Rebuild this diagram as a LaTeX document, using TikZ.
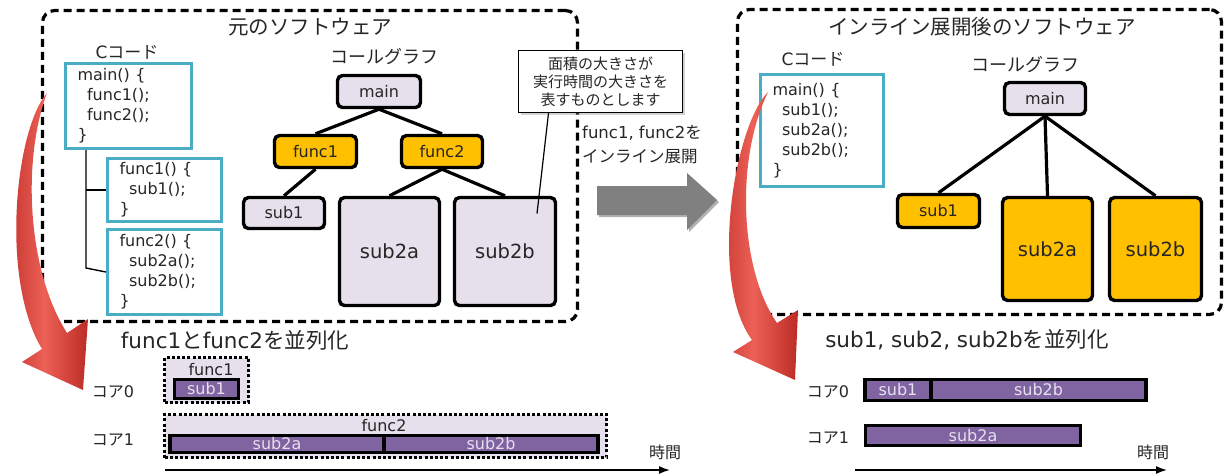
\documentclass[tikz,border=0pt]{standalone}
\usepackage{fontspec}
\setmainfont{DejaVu Sans}
\newfontfamily\jp{Noto Sans CJK JP}
\usetikzlibrary{arrows.meta,shadows}
\definecolor{cyanb}{HTML}{4BACC6}
\definecolor{lav}{HTML}{E6E0EC}
\definecolor{orng}{HTML}{FFC000}
\definecolor{purp}{HTML}{8064A2}
\definecolor{grayarr}{HTML}{808080}
\definecolor{redD}{RGB}{188,44,38}
\definecolor{redL}{RGB}{236,96,86}
\newcommand\fsz[2]{\fontsize{#1}{#2}\selectfont}
\begin{document}
\begin{tikzpicture}[x=1pt,y=-1pt,
  every node/.style={text=black!85, inner sep=0pt},
  dbox/.style={draw=black, line width=3.2pt, dash pattern=on 8pt off 5pt, rounded corners=12pt},
  code/.style={draw=cyanb, line width=3.2pt, align=left, inner xsep=12pt, font=\fsz{16}{20}},
  cg/.style={draw=black, line width=3.4pt, rounded corners=5pt, fill=lav, font=\fsz{16}{18}},
  cgo/.style={cg, fill=orng},
  big/.style={font=\fsz{19.5}{24}},
  edge/.style={line width=3.2pt},
  tbar/.style={draw=black, line width=3.2pt, fill=purp, text=lav, font=\fsz{16}{16}},
  dotbox/.style={draw=black, line width=3pt, dash pattern=on 3pt off 2.2pt, fill=lav},
  axis/.style={line width=1.6pt, -{Latex[length=11pt,width=8pt]}},
  ttl/.style={font=\jp\fsz{20.5}{24}},
  sub/.style={font=\fsz{17}{20}},
  lbl/.style={font=\fsz{16}{18}}
]
\useasboundingbox (0,0) rectangle (1225,475);

% ---------- left dashed box ----------
\node[dbox, minimum width=535pt, minimum height=311pt] (orig) at (310,166) {};
\node[ttl] (origt) at (310,27) {元のソフトウェア};
\node[sub] (cl) at (127,52) {C{\jp コード}};
\node[code, minimum width=126pt, minimum height=85pt, text width=102pt] (mainc) at (128.5,106)
  {main() \{\\\hspace*{0.6em}func1();\\\hspace*{0.6em}func2();\\\}};
\node[code, minimum width=114pt, minimum height=63pt, text width=90pt] (func1c) at (164.5,190)
  {func1() \{\\\hspace*{0.6em}sub1();\\\}};
\node[code, minimum width=114pt, minimum height=85pt, text width=90pt] (func2c) at (164.5,272)
  {func2() \{\\\hspace*{0.6em}sub2a();\\\hspace*{0.6em}sub2b();\\\}};
\coordinate (tv) at (86,268);
\draw[line width=1.4pt] (tv |- mainc.south) -- (tv) -- (func2c.west);
\draw[line width=1.4pt] (tv |- func1c.west) -- (func1c.west);

\node[sub, font=\jp\fsz{18}{20}] (cgl) at (384,57) {コールグラフ};
\node[cg, minimum width=83pt, minimum height=32pt] (lmain) at (379,91.5) {main};
\node[cgo, minimum width=82pt, minimum height=32pt] (lf1) at (315.5,151.5) {func1};
\node[cgo, minimum width=81pt, minimum height=32pt] (lf2) at (442,151.5) {func2};
\node[cg, minimum width=81pt, minimum height=31pt] (lsub1) at (284,213) {sub1};
\node[cg, big, minimum width=100pt, minimum height=108pt] (lsub2a) at (389.5,251.5) {sub2a};
\node[cg, big, minimum width=101pt, minimum height=108pt] (lsub2b) at (505,251.5) {sub2b};
\draw[edge] (lmain.south) -- (lf1.north);
\draw[edge] (lmain.south) -- (lf2.north);
\draw[edge] (lf1.south) -- (lsub1.north);
\draw[edge] (lf2.south) -- (lsub2a.north);
\draw[edge] (lf2.south) -- (lsub2b.north);

% note
\node[draw=black, line width=1.2pt, fill=white, minimum width=164pt, minimum height=62pt,
  align=center, font=\jp\fsz{15}{18}, drop shadow={shadow xshift=2pt, shadow yshift=-2pt, opacity=0.35}]
  (note) at (600.5,81.5) {面積の大きさが\\実行時間の大きさを\\表すものとします};
\draw[line width=1.2pt] ([xshift=-52pt]note.south) -- ([xshift=32pt,yshift=38pt]lsub2b.center);

% middle
\node[anchor=west, align=left, font=\fsz{16.5}{24}] (inl) at (582,145) {func1, func2{\jp を}\\{\jp インライン展開}};
\fill[black!30] (599,188) -- (689,188) -- (689,175) -- (719,202) -- (689,232) -- (689,217) -- (599,217) -- cycle;
\fill[grayarr] (597,186) -- (687,186) -- (687,173) -- (717,200) -- (687,230) -- (687,215) -- (597,215) -- cycle;

% ---------- right dashed box ----------
\node[dbox, minimum width=484pt, minimum height=305pt] (inlb) at (979.5,162) {};
\node[ttl] (inlt) at (982,27) {インライン展開後のソフトウェア};
\node[sub] (cr) at (813,59) {C{\jp コード}};
\node[code, minimum width=123pt, minimum height=112pt, text width=99pt] (rmainc) at (822,130.5)
  {main() \{\\\hspace*{0.6em}sub1();\\\hspace*{0.6em}sub2a();\\\hspace*{0.6em}sub2b();\\\}};
\node[sub, font=\jp\fsz{18}{20}] (cgr) at (1025,65) {コールグラフ};
\node[cg, minimum width=81pt, minimum height=32pt] (rmain) at (1045,98.5) {main};
\node[cgo, minimum width=82pt, minimum height=33pt] (rsub1) at (938.5,211) {sub1};
\node[cgo, big, minimum width=90pt, minimum height=103pt] (rsub2a) at (1047.5,249) {sub2a};
\node[cgo, big, minimum width=92pt, minimum height=103pt] (rsub2b) at (1155.5,249) {sub2b};
\draw[edge] (rmain.south) -- (rsub1.north);
\draw[edge] (rmain.south) -- (rsub2a.north);
\draw[edge] (rmain.south) -- (rsub2b.north);

% ---------- bottom left ----------
\node[font=\fsz{21.5}{24}] (parl) at (235,340) {func1{\jp と}func2{\jp を並列化}};
\node[lbl] (c0l) at (113,392) {{\jp コア}0};
\node[lbl] (c1l) at (113,440) {{\jp コア}1};
\node[dotbox, minimum width=84pt, minimum height=45pt] (df1) at (206.5,380) {};
\node[font=\fsz{16}{16}] (df1t) at (211,370) {func1};
\node[tbar, minimum width=64pt, minimum height=19pt] (b1) at (206.5,389) {sub1};
\node[dotbox, minimum width=442pt, minimum height=43pt] (df2) at (385.5,436) {};
\node[font=\fsz{16}{16}] (df2t) at (384,426) {func2};
\node[tbar, minimum width=214pt, minimum height=17pt] (b2a) at (277,444) {sub2a};
\node[tbar, minimum width=214pt, minimum height=17pt] (b2b) at (491,444) {sub2b};
\node[lbl, font=\jp\fsz{16}{18}] (tl) at (665,452) {時間};
\coordinate (ta0) at (165,470);
\coordinate (ta1) at (670,470);
\draw[axis] (ta0) -- (ta1);

% ---------- bottom right ----------
\node[font=\fsz{21.5}{24}] (parr) at (967,340) {sub1, sub2, sub2b{\jp を並列化}};
\node[lbl] (c0r) at (828,392) {{\jp コア}0};
\node[lbl] (c1r) at (828,438) {{\jp コア}1};
\node[tbar, minimum width=66pt, minimum height=21pt] (rb1) at (898,390) {sub1};
\node[tbar, minimum width=215pt, minimum height=21pt] (rb2b) at (1038.5,390) {sub2b};
\node[tbar, minimum width=215pt, minimum height=20pt] (rb2a) at (973,435.5) {sub2a};
\node[lbl, font=\jp\fsz{16}{18}] (tr) at (1153,452) {時間};
\coordinate (tb0) at (855,470);
\coordinate (tb1) at (1167,470);
\draw[axis] (tb0) -- (tb1);

% ---------- red curved arrows ----------
\shade[left color=redD, right color=redD, middle color=redL]
  (47,93) .. controls (15,130) and (0,280) .. (42,349) -- (22,362) -- (83,390) -- (88,319) -- (67,333)
  .. controls (27,270) and (22,160) .. (47,93) -- cycle;
\shade[left color=redD, right color=redD, middle color=redL]
  (768,92) .. controls (735,125) and (708,280) .. (752,340) -- (733,352) -- (795,380) -- (798,310) -- (777,323)
  .. controls (740,270) and (735,160) .. (768,92) -- cycle;
\end{tikzpicture}
\end{document}
